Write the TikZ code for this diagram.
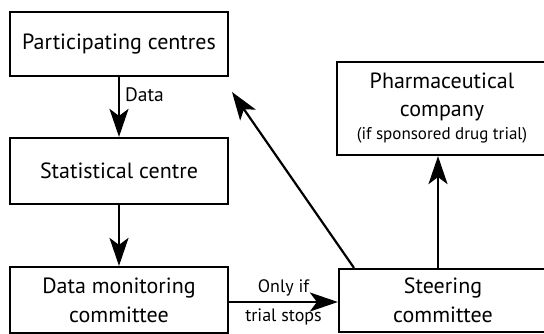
\documentclass[tikz,border=0pt]{standalone}
\usepackage{fontspec}
\setmainfont{PT Sans}
\usetikzlibrary{arrows.meta,calc}
\begin{document}
\begin{tikzpicture}[x=1pt,y=-1pt,
  box/.style={draw,line width=2.2pt,align=center,inner sep=0pt,
    font=\fontsize{22}{29}\selectfont},
  arr/.style={line width=2.2pt,-{Stealth[length=28pt,width=19pt,inset=7pt]}},
  lab/.style={font=\fontsize{18}{20}\selectfont,inner sep=0pt}]
\useasboundingbox (0,0) rectangle (544,334);
\node[box,minimum width=218pt,minimum height=64pt] (part) at (119,44) {Participating centres};
\node[box,minimum width=218pt,minimum height=66pt] (stat) at (119,171) {Statistical centre};
\node[box,minimum width=218pt,minimum height=66pt] (dmc) at (119,300) {Data monitoring\\committee};
\node[box,minimum width=208pt,minimum height=63pt] (steer) at (443,300.5) {Steering\\committee};
\node[box,minimum width=210pt,minimum height=93pt] (pharma) at (442,108.5)
  {Pharmaceutical\\[-1pt]company\\[-6pt]{\fontsize{17}{18}\selectfont (if sponsored drug trial)}};
\coordinate (tip) at (232,92);
\draw[arr] (part.south) -- node[lab,font=\fontsize{19.5}{20}\selectfont,right=5pt,pos=0.3]{Data} (stat.north);
\draw[arr] (stat.south) -- (dmc.north);
\draw[arr] (dmc.east|-0,302) -- node[lab,above=5pt]{Only if} node[lab,below=6pt]{trial stops} (steer.west|-0,302);
\draw[arr] (steer.north-|438,0) -- (pharma.south-|438,0);
\draw[arr] (steer.north-|354,0) -- (tip);
\end{tikzpicture}
\end{document}
